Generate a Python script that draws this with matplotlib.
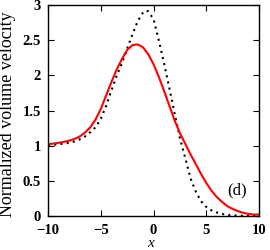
import matplotlib
matplotlib.use("Agg")
import matplotlib.pyplot as plt
import numpy as np

x_vals = [-10, -9.5, -9, -8.5, -8, -7.5, -7, -6.5, -6, -5.5, -5, -4.5, -4, -3.5, -3,
          -2.5, -2, -1.5, -1, -0.5, 0, 0.5, 1, 1.5, 2, 2.5, 3, 3.5, 4, 4.5, 5,
          5.5, 6, 6.5, 7, 7.5, 8, 8.5, 9, 9.5, 10]
red_vals = [1.02, 1.03, 1.04, 1.055, 1.07, 1.095, 1.13, 1.185, 1.26, 1.37, 1.52, 1.71, 1.90, 2.08, 2.23,
            2.36, 2.43, 2.44, 2.40, 2.30, 2.16, 1.98, 1.78, 1.57, 1.36, 1.18, 1.03, 0.88, 0.74, 0.60, 0.47,
            0.36, 0.27, 0.20, 0.14, 0.10, 0.07, 0.045, 0.03, 0.02, 0.02]
black_x = [-10, -9.5, -9, -8.5, -8, -7.5, -7, -6.5, -6, -5.5, -5, -4.5, -4, -3.5, -3,
           -2.5, -2, -1.5, -1, -0.75, -0.5, 0, 0.5, 1, 1.5, 2, 2.5, 3, 3.5, 4, 4.5, 5,
           5.5, 6, 6.5, 7, 7.5, 8, 9, 10]
black_vals = [1.01, 1.01, 1.02, 1.03, 1.04, 1.06, 1.09, 1.13, 1.19, 1.26, 1.38, 1.56, 1.78, 1.99, 2.17,
              2.38, 2.58, 2.77, 2.89, 2.92, 2.91, 2.80, 2.50, 2.17, 1.82, 1.46, 1.11, 0.83, 0.54, 0.35, 0.21, 0.13,
              0.08, 0.05, 0.03, 0.015, 0.01, 0.005, 0.0, 0.0]
x_ticks = [-10, -5, 0, 5, 10]
y_ticks = [0, 0.5, 1, 1.5, 2, 2.5, 3]
y_tick_labels = ["0", "0.5", "1", "1.5", "2", "2.5", "3"]

fig = plt.figure(figsize=(2.7, 2.5), dpi=100)
ax = fig.add_axes([48/270, 1-216/250, 211/270, 211/250])
ax.plot(black_x, black_vals, color="black", lw=1.5, linestyle=(0, (1, 2)))
ax.plot(x_vals, red_vals, color="red", lw=1.5)
ax.set_xlim(-10, 10)
ax.set_ylim(0, 3)
ax.set_xticks(x_ticks)
ax.set_yticks(y_ticks)
ax.set_yticklabels(y_tick_labels)
ax.tick_params(direction="in", length=4, width=0.8, top=True, right=True)
ax.tick_params(axis="x", pad=5.5)
ax.tick_params(axis="y", pad=5)
for lab in ax.get_xticklabels() + ax.get_yticklabels():
    lab.set_family("Liberation Serif")
    lab.set_fontweight("bold")
    lab.set_fontsize(10.5)
for s in ax.spines.values():
    s.set_linewidth(1.0)
ax.set_xlabel("x", family="Liberation Serif", style="italic", fontsize=11)
ax.xaxis.set_label_coords(0.485, -0.098)
ax.set_ylabel("Normalized volume velocity", family="Liberation Serif", fontsize=13)
ax.yaxis.set_label_coords(-0.15, 0.483)
ax.text(0.898, 0.123, "(d)", transform=ax.transAxes, family="Liberation Serif", fontsize=12,
        ha="center", va="center")
fig.savefig("out.png", dpi=100)
